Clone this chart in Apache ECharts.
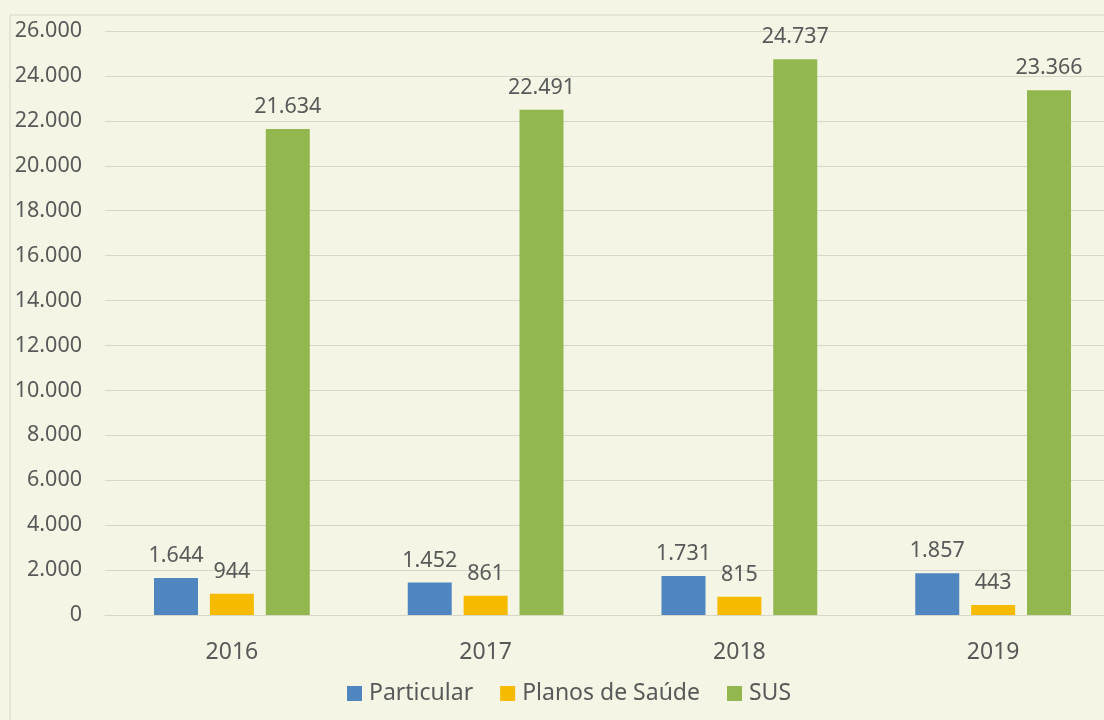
<!DOCTYPE html>
<html lang="pt">
<head>
    <meta charset="UTF-8">
    <title>Atendimentos por tipo</title>
    <script type="text/javascript" src="https://cdn.jsdelivr.net/npm/echarts@6/dist/echarts.min.js"></script>
    <style>
        html, body { margin: 0; padding: 0; background: #f4f5e4; }
    </style>
</head>
<body>
<div id="myChart" style="width:1104px;height:720px;"></div>
<script type="text/javascript">
    var anos = ['2016', '2017', '2018', '2019'];
    var particular = [1644, 1452, 1731, 1857];
    var planos = [944, 861, 815, 443];
    var sus = [21634, 22491, 24737, 23366];
    var nomes = ['Particular', 'Planos de Saúde', 'SUS'];

    // formato pt-BR: 1.644
    function fmt(v) {
        return String(v).replace(/\B(?=(\d{3})+(?!\d))/g, '.');
    }

    var fonte = 'Noto Sans';
    var cinza = '#595959';

    var myChart = echarts.init(document.getElementById('myChart'));
    var rotulo = {
        show: true,
        position: 'top',
        distance: 11,
        color: cinza,
        fontSize: 21.5,
        fontFamily: fonte,
        formatter: function (p) { return fmt(p.value); }
    };
    var option = {
        backgroundColor: '#f4f5e4',
        color: ['#4f86c0', '#f6bb00', '#92b74e'],
        graphic: [{
            type: 'rect',
            shape: { x: 10, y: 15, width: 1200, height: 800 },
            style: { fill: 'none', stroke: '#d6d7c8', lineWidth: 1 },
            silent: true
        }],
        legend: {
            data: nomes,
            bottom: 10,
            left: 342,
            itemWidth: 15,
            itemHeight: 15,
            itemGap: 27,
            icon: 'rect',
            textStyle: { color: cinza, fontSize: 23, fontFamily: fonte, padding: [0, 0, 0, 2] }
        },
        grid: {
            top: 31,
            left: 105,
            width: 1015,
            height: 584,
            outerBoundsMode: 'none'
        },
        xAxis: {
            type: 'category',
            data: anos,
            axisTick: { show: false },
            axisLine: { lineStyle: { color: '#d6d7c8' } },
            axisLabel: { color: cinza, fontSize: 23, fontFamily: fonte, margin: 26 }
        },
        yAxis: {
            type: 'value',
            min: 0,
            max: 26000,
            interval: 2000,
            axisLabel: {
                color: cinza, fontSize: 21.5, fontFamily: fonte, margin: 23,
                formatter: function (v) { return fmt(v); }
            },
            splitLine: { lineStyle: { color: '#d6d7c8' } }
        },
        series: [
            { name: nomes[0], type: 'bar', barWidth: 44, barGap: '27%', data: particular, label: rotulo },
            { name: nomes[1], type: 'bar', barWidth: 44, barGap: '27%', data: planos, label: rotulo },
            { name: nomes[2], type: 'bar', barWidth: 44, barGap: '27%', data: sus, label: rotulo }
        ]
    };
    myChart.setOption(option);
</script>
</body>
</html>
